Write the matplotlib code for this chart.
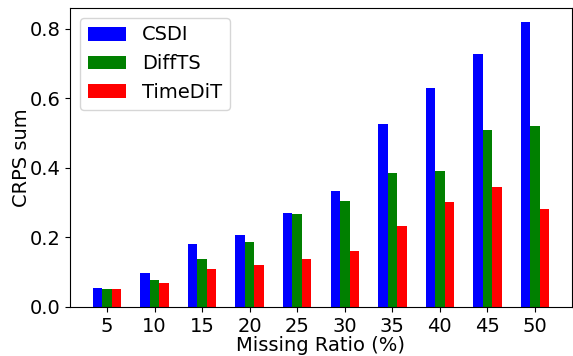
import numpy as np
import matplotlib
matplotlib.use("Agg")
import matplotlib.pyplot as plt

ratios = ["5", "10", "15", "20", "25", "30", "35", "40", "45", "50"]
csdi = [0.055, 0.098, 0.181, 0.207, 0.270, 0.333, 0.526, 0.629, 0.726, 0.818]
difft = [0.052, 0.078, 0.138, 0.187, 0.268, 0.305, 0.385, 0.391, 0.508, 0.520]
timedit = [0.052, 0.070, 0.110, 0.121, 0.138, 0.161, 0.233, 0.302, 0.345, 0.282]

plt.rcParams["font.size"] = 14
fig = plt.figure(figsize=(5.73, 3.56), dpi=100)
ax = fig.add_axes([70/573, 1-307/356, (572-70)/573, (307-8)/356])
x = np.arange(len(ratios))
w = 0.2
ax.bar(x - w, csdi, w, color="blue", label="CSDI")
ax.bar(x, difft, w, color="green", label="DiffTS")
ax.bar(x + w, timedit, w, color="red", label="TimeDiT")
ax.set_xticks(x)
ax.set_xticklabels(ratios)
ax.set_yticks([0.0, 0.2, 0.4, 0.6, 0.8])
ax.set_xlabel("Missing Ratio (%)", labelpad=0)
ax.set_ylabel("CRPS sum", labelpad=-1)
ax.legend(loc="upper left")
fig.savefig("out.png", dpi=100)
